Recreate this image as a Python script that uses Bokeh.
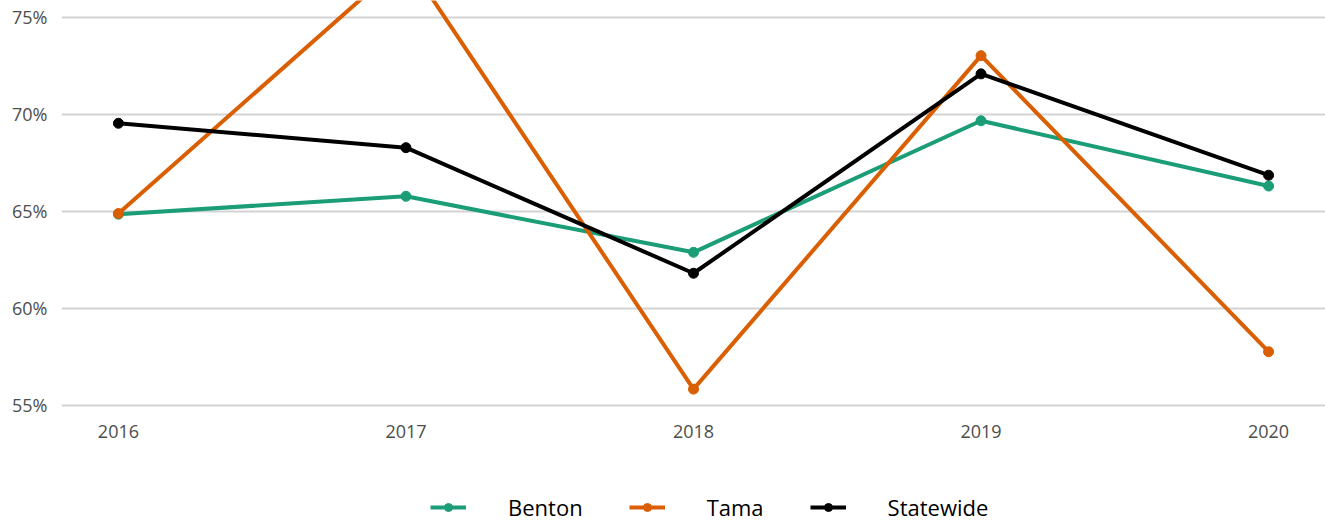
from bokeh.plotting import figure
from bokeh.layouts import column
from bokeh.models import Legend, LegendItem, FixedTicker, PrintfTickFormatter, Range1d
from bokeh.embed import file_html
from bokeh.resources import INLINE

years = [2016, 2017, 2018, 2019, 2020]
year_labels = ["2016", "2017", "2018", "2019", "2020"]
benton = [64.85, 65.77, 62.88, 69.67, 66.30]
tama = [64.88, 78.0, 55.82, 73.03, 57.75]
statewide = [69.54, 68.28, 61.80, 72.09, 66.86]
y_ticks = [55, 60, 65, 70, 75]

series = [("Benton", benton, "#1b9e77"), ("Tama", tama, "#d95f02"), ("Statewide", statewide, "#000000")]

FONT = "Open Sans"
W = 1325

p = figure(width=W, height=482, output_backend="svg", toolbar_location=None,
           x_range=Range1d(2015.802, 2020.198), y_range=Range1d(54.613, 75.877),
           min_border_left=61, min_border_right=0, min_border_top=0, min_border_bottom=70)
p.outline_line_color = None

for name, vals, col in series:
    p.line(years, vals, line_color=col, line_width=4)
    p.scatter(years, vals, size=10, fill_color=col, line_color=col)

p.xgrid.grid_line_color = None
p.ygrid.grid_line_color = "#d3d3d3"
p.ygrid.grid_line_width = 2
p.ygrid.ticker = FixedTicker(ticks=y_ticks)

p.yaxis.ticker = FixedTicker(ticks=y_ticks)
p.yaxis.formatter = PrintfTickFormatter(format="%d%%")
p.xaxis.ticker = FixedTicker(ticks=years)
p.xaxis.major_label_overrides = {y: l for y, l in zip(years, year_labels)}
for ax in (p.xaxis, p.yaxis):
    ax.axis_line_color = None
    ax.major_tick_line_color = None
    ax.minor_tick_line_color = None
    ax.major_tick_out = 0
    ax.major_tick_in = 0
    ax.major_label_text_font = FONT
    ax.major_label_text_font_size = "18px"
    ax.major_label_text_color = "#4d4d4d"
p.yaxis.major_label_standoff = 14
p.xaxis.major_label_standoff = 12

# legend in its own strip under the chart (its renderers fall outside this strip's ranges)
lg = figure(width=W, height=40, output_backend="svg", toolbar_location=None,
            x_axis_type=None, y_axis_type=None, min_border=0,
            x_range=Range1d(0, 1), y_range=Range1d(0, 1))
lg.outline_line_color = None
lg.xgrid.visible = False
lg.ygrid.visible = False
items = []
for name, vals, col in series:
    r1 = lg.line(years, vals, line_color=col, line_width=4)
    r2 = lg.scatter(years, vals, size=10, fill_color=col, line_color=col)
    items.append(LegendItem(label=name, renderers=[r1, r2]))
legend = Legend(items=items, orientation="horizontal", location=(369, 0),
                glyph_width=36, glyph_height=20, label_standoff=42, spacing=46,
                label_text_font=FONT, label_text_font_size="22px", label_text_color="#000000",
                border_line_color=None, background_fill_alpha=0, padding=0, margin=0)
lg.add_layout(legend, "center")

layout = column(p, lg, spacing=0)
open("out.html", "w").write(file_html(layout, INLINE))
